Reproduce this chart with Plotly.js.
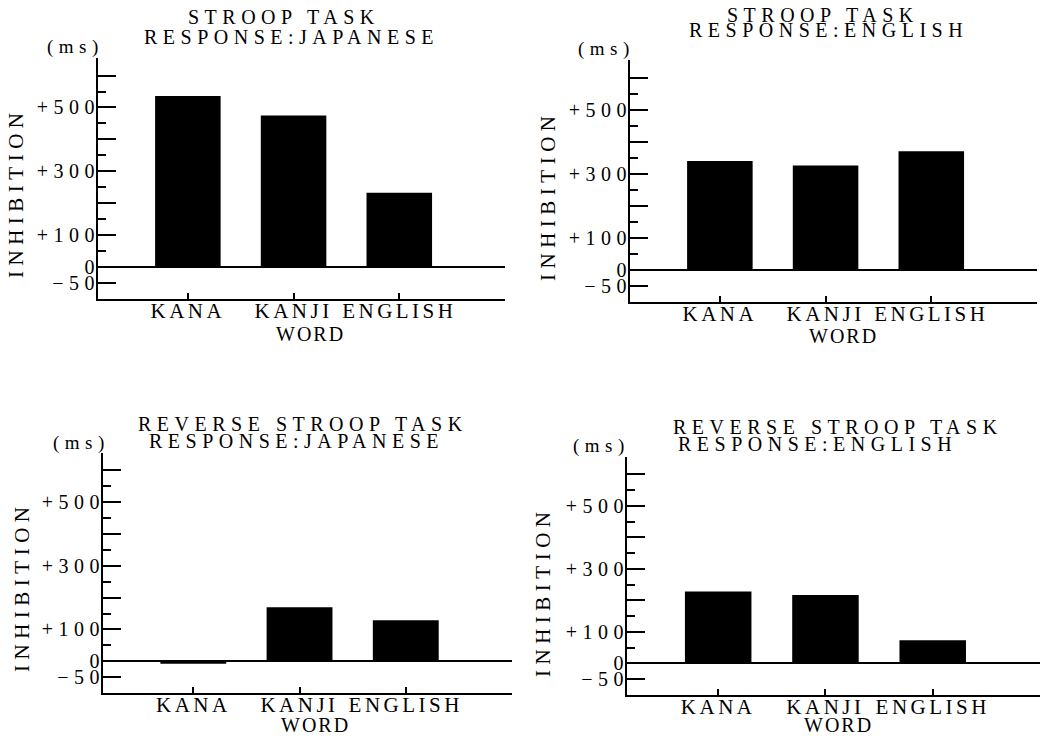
<!DOCTYPE html>
<html><head><meta charset="utf-8">
<script src="https://cdn.plot.ly/plotly-3.0.1.min.js"></script>
<style>
html,body{margin:0;padding:0;background:#fff;}
#chart{width:1051px;height:738px;}
.xaxislayer-above text{letter-spacing:3.5px;}
.yaxislayer-above text{letter-spacing:5.5px;}
.annotation-text{letter-spacing:5.5px;}
</style></head><body><div id="chart"></div>
<script>
// ---- data ----
const words = ["KANA", "KANJI", "ENGLISH"];
const stroopJapanese = [536, 475, 233];
const stroopEnglish = [340, 326, 370];
const reverseJapanese = [-8, 170, 129];
const reverseEnglish = [228, 217, 74];
const yTickVals = [-50, 0, 100, 200, 300, 400, 500, 600];
const yTickText = ["\u221250", "0", "+100", "", "+300", "", "+500", ""];
const yMinorVals = [50, 150, 250, 350, 450, 550];
const titlesLine1 = ["STROOP TASK", "STROOP TASK", "REVERSE STROOP TASK", "REVERSE STROOP TASK"];
const titlesLine2 = ["RESPONSE:JAPANESE", "RESPONSE:ENGLISH", "RESPONSE:JAPANESE", "RESPONSE:ENGLISH"];
const unitLabel = "(ms)";
const yTitle = "INHIBITION";
const xTitle = "WORD";

// ---- layout helpers ----
const W = 1051, H = 738;
const FONT = "Liberation Serif, DejaVu Serif, serif";
const px = v => v / W;
const py = v => 1 - v / H;
const f = (s) => ({family: FONT, size: s, color: "black"});

const panels = [
  {vals: stroopJapanese, x0: 98, x1: 505, y0: 58, y1: 299, t1: [284, 17], t2: [291, 37], ms: [75, 47], yt: [16, 193], xt: [310, 334]},
  {vals: stroopEnglish, x0: 630, x1: 1037, y0: 60, y1: 302, t1: [823, 15], t2: [828, 30], ms: [606, 49], yt: [548, 196], xt: [843, 336]},
  {vals: reverseJapanese, x0: 103, x1: 512, y0: 453, y1: 693, t1: [303, 424], t2: [296, 441], ms: [81, 443], yt: [22, 587], xt: [315, 725]},
  {vals: reverseEnglish, x0: 627, x1: 1040, y0: 457, y1: 695, t1: [838, 427], t2: [817, 444], ms: [601, 446], yt: [543, 592], xt: [838, 725]}
];

const data = [];
const layout = {
  width: W, height: H,
  margin: {l: 0, r: 0, t: 0, b: 0},
  paper_bgcolor: "white", plot_bgcolor: "white",
  showlegend: false,
  font: {family: FONT, color: "black"},
  annotations: []
};

function ann(text, pos, size, extra) {
  return Object.assign({text: text, x: px(pos[0]), y: py(pos[1]), xref: "paper", yref: "paper",
    xanchor: "center", yanchor: "middle", showarrow: false, font: f(size)}, extra || {});
}

panels.forEach((p, i) => {
  const n = i === 0 ? "" : String(i + 1);
  data.push({
    type: "bar", x: words, y: p.vals, width: 0.62,
    marker: {color: "black", line: {width: 0}},
    xaxis: "x" + n, yaxis: "y" + n, hoverinfo: "x+y"
  });
  layout["xaxis" + n] = {
    domain: [px(p.x0), px(p.x1)], anchor: "y" + n,
    type: "category", range: [-0.85, 3.0],
    ticks: "inside", ticklen: 6, tickwidth: 2, tickcolor: "black",
    showline: true, linecolor: "black", linewidth: 2,
    showgrid: false, zeroline: false, automargin: false,
    tickangle: 0, ticklabelstandoff: -8,
    tickfont: f(21)
  };
  layout["yaxis" + n] = {
    domain: [py(p.y1), py(p.y0)], anchor: "x" + n,
    range: [-100, 655],
    tickmode: "array", tickvals: yTickVals, ticktext: yTickText,
    ticks: "inside", ticklen: 18, tickwidth: 2, tickcolor: "black",
    minor: {tickmode: "array", tickvals: yMinorVals, ticks: "inside", ticklen: 8, tickwidth: 2, tickcolor: "black", showgrid: false},
    showline: true, linecolor: "black", linewidth: 2,
    showgrid: false, zeroline: true, zerolinecolor: "black", zerolinewidth: 2,
    automargin: false, ticklabelstandoff: -8,
    tickfont: f(20)
  };
  layout.annotations.push(
    ann(titlesLine1[i], p.t1, 20),
    ann(titlesLine2[i], p.t2, 20),
    ann(unitLabel, p.ms, 19),
    ann(yTitle, p.yt, 21, {textangle: -90}),
    ann('<span style="letter-spacing:2px">' + xTitle + '</span>', p.xt, 20)
  );
});

Plotly.newPlot("chart", data, layout, {displayModeBar: false});
</script></body></html>
